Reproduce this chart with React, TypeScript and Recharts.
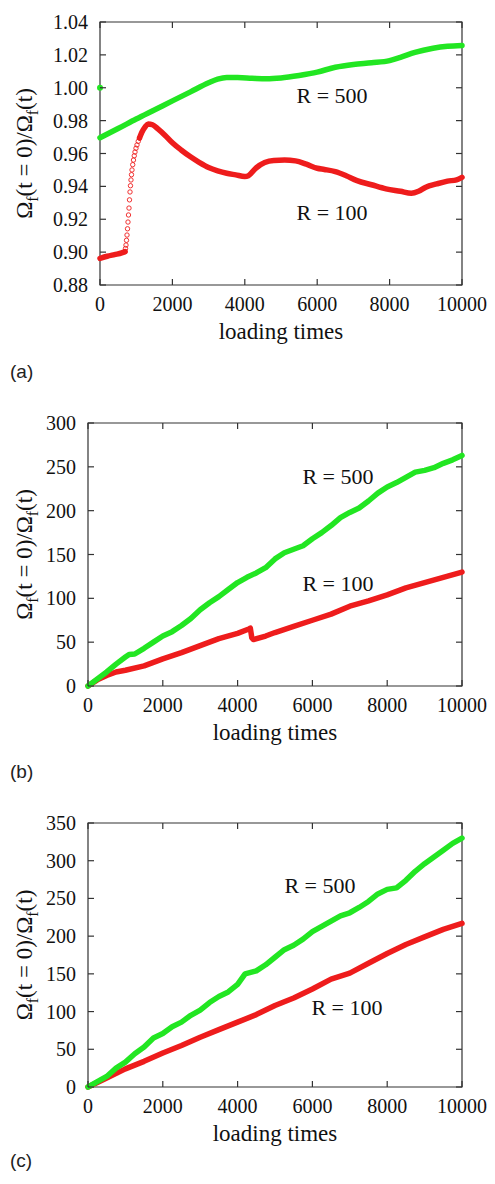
import React from "react";
import { ComposedChart, Line, XAxis, YAxis, ReferenceDot, ReferenceArea } from "recharts";

const serif = "'Liberation Serif', 'Times New Roman', Times, serif";
const sans = "'Liberation Sans', Arial, sans-serif";
const green = "#22e622";
const red = "#ee1c1c";
const axisColor = "#333";

const xTicks = [0, 2000, 4000, 6000, 8000, 10000];

// panel (a)
const aTicks = [0.88, 0.9, 0.92, 0.94, 0.96, 0.98, 1.0, 1.02, 1.04];
const aR500First = [[0, 1.0]];
const aR500 = [
  [0, 0.9696], [500, 0.9752], [1000, 0.981], [1500, 0.9865], [2000, 0.992], [2500, 0.9975],
  [3000, 1.003], [3250, 1.0052], [3500, 1.0062], [3800, 1.0062], [4200, 1.0058], [4600, 1.0055],
  [5000, 1.006], [5500, 1.0075], [6000, 1.0095], [6500, 1.0125], [7000, 1.0142], [7500, 1.0152],
  [8000, 1.0165], [8300, 1.0185], [8700, 1.0215], [9200, 1.024], [9600, 1.0252], [10000, 1.0257],
];
const aR100Start = [[0, 0.8962], [200, 0.8975], [400, 0.8985], [600, 0.8995], [691, 0.9003]];
const aR100Rise = [
  [691, 0.9003], [705, 0.9022], [718, 0.9043], [732, 0.9072], [746, 0.9104], [760, 0.9142],
  [773, 0.9183], [787, 0.9226], [801, 0.9268], [815, 0.9318], [829, 0.9366], [842, 0.9404],
  [856, 0.9439], [870, 0.9471], [884, 0.95], [904, 0.9532], [925, 0.956], [946, 0.9586],
  [967, 0.9609], [994, 0.9632], [1022, 0.9652], [1056, 0.9674], [1091, 0.9694],
];
const aR100Rest = [
  [1091, 0.9694], [1160, 0.9731], [1243, 0.9761], [1330, 0.978], [1450, 0.9775], [1600, 0.975],
  [1800, 0.971], [2000, 0.9665], [2250, 0.962], [2500, 0.958], [2750, 0.9545], [3000, 0.9515],
  [3250, 0.9495], [3500, 0.948], [3750, 0.947], [4000, 0.946], [4100, 0.9465], [4300, 0.951],
  [4550, 0.9545], [4800, 0.9558], [5100, 0.956], [5400, 0.9555], [5700, 0.9535], [6000, 0.951],
  [6200, 0.9503], [6500, 0.949], [6800, 0.9465], [7100, 0.9435], [7500, 0.941], [7900, 0.9385],
  [8300, 0.937], [8600, 0.9358], [8800, 0.937], [9000, 0.9395], [9300, 0.9415], [9600, 0.9432],
  [9850, 0.944], [10000, 0.9455],
];

// panel (b)
const bTicks = [0, 50, 100, 150, 200, 250, 300];
const bR500 = [
  [0, 0], [250, 8], [500, 16], [750, 25], [1000, 33], [1100, 36], [1250, 36.5], [1500, 43],
  [1750, 50], [2000, 57], [2250, 62], [2500, 69], [2750, 77], [3000, 87], [3250, 95],
  [3500, 102], [3750, 110], [4000, 118], [4250, 124], [4500, 129], [4750, 135], [5000, 145],
  [5250, 152], [5500, 156], [5750, 160], [6000, 168], [6250, 175], [6500, 183], [6750, 192],
  [7000, 198], [7250, 203], [7500, 211], [7750, 220], [8000, 227], [8250, 232], [8500, 238],
  [8750, 244], [9000, 246], [9250, 249], [9500, 254], [9750, 258], [10000, 263],
];
const bR100 = [
  [0, 0], [250, 7], [500, 12], [750, 16], [1000, 18], [1500, 23], [2000, 31], [2500, 38],
  [3000, 46], [3500, 54], [4000, 60], [4300, 65], [4340, 66], [4380, 55], [4420, 53],
  [4750, 57], [5000, 61], [5500, 68], [6000, 75], [6500, 82], [7000, 91], [7500, 97],
  [8000, 104], [8500, 112], [9000, 118], [9500, 124], [10000, 130],
];

// panel (c)
const cTicks = [0, 50, 100, 150, 200, 250, 300, 350];
const cR500 = [
  [0, 0], [250, 7], [500, 14], [750, 25], [1000, 33], [1250, 44], [1500, 53], [1750, 65],
  [2000, 71], [2250, 80], [2500, 86], [2750, 95], [3000, 102], [3250, 112], [3500, 120],
  [3750, 126], [4000, 136], [4200, 150], [4500, 154], [4750, 162], [5000, 172], [5250, 182],
  [5500, 188], [5750, 196], [6000, 206], [6250, 213], [6500, 220], [6750, 227], [7000, 231],
  [7250, 238], [7500, 246], [7750, 256], [8000, 262], [8250, 264], [8500, 274], [8750, 286],
  [9000, 296], [9250, 305], [9500, 314], [9750, 323], [10000, 330],
];
const cR100 = [
  [0, 0], [500, 12], [1000, 24], [1500, 34], [2000, 45], [2500, 55], [3000, 66], [3500, 76],
  [4000, 86], [4500, 96], [5000, 108], [5500, 118], [6000, 130], [6500, 143], [7000, 151],
  [7500, 164], [8000, 177], [8500, 189], [9000, 199], [9500, 209], [10000, 217],
];

const pts = (arr: number[][]) => arr.map(([t, v]) => ({ t, v }));

// x ticks: label below, short tick pointing up into the plot, mirrored on the top edge
const makeBottomTick = (plotTop: number) => (p: any) => (
  <g>
    <line x1={p.x} x2={p.x} y1={p.y - 12} y2={p.y - 18} stroke={axisColor} strokeWidth={1.2} />
    <line x1={p.x} x2={p.x} y1={plotTop} y2={plotTop + 6} stroke={axisColor} strokeWidth={1.2} />
    <text x={p.x} y={p.y + 14} textAnchor="middle" fontSize={20} fill="#111" fontFamily={serif}>
      {p.payload.value}
    </text>
  </g>
);

// y ticks: label left, inward tick on both the left and the right edge
const makeLeftTick = (fmt: (v: number) => string, plotRight: number) => (p: any) => (
  <g>
    <line x1={p.x + 12} x2={p.x + 18} y1={p.y} y2={p.y} stroke={axisColor} strokeWidth={1.2} />
    <line x1={plotRight - 6} x2={plotRight} y1={p.y} y2={p.y} stroke={axisColor} strokeWidth={1.2} />
    <text x={p.x} y={p.y + 7} textAnchor="end" fontSize={20} fill="#111" fontFamily={serif}>
      {fmt(p.payload.value)}
    </text>
  </g>
);

const XLab = (props: any) => {
  const { x, y, width } = props.viewBox;
  return (
    <text x={x + width / 2} y={y + 54} textAnchor="middle" fontSize={23} fill="#111" fontFamily={serif}>
      loading times
    </text>
  );
};

const YLab = (props: any) => {
  const { y, height } = props.viewBox;
  const cy = y + height / 2;
  return (
    <text x={32} y={cy} transform={`rotate(-90, 32, ${cy})`} textAnchor="middle" fontSize={23} fill="#111" fontFamily={serif}>
      Ω<tspan dy={6} fontSize={16}>f</tspan>
      <tspan dy={-6}>(t = 0)/Ω</tspan>
      <tspan dy={6} fontSize={16}>f</tspan>
      <tspan dy={-6}>(t)</tspan>
    </text>
  );
};

type Series = { data: number[][]; color: string; kind?: "line" | "rings" | "dot" };
type Note = { t: number; v: number; text: string };

const Panel = ({ top, height, margin, yTicks, fmt, series, notes, tag, curve }: {
  top: number; height: number; margin: any; yTicks: number[]; fmt: (v: number) => string;
  series: Series[]; notes: Note[]; tag: string; curve: "monotone" | "linear";
}) => {
  const dom: [number, number] = [yTicks[0], yTicks[yTicks.length - 1]];
  const plotRight = 495 - margin.right;
  return (
    <div style={{ position: "absolute", left: 0, top }}>
      <ComposedChart width={495} height={height} margin={margin}>
        <ReferenceArea x1={0} x2={10000} y1={dom[0]} y2={dom[1]} fill="none" stroke={axisColor}
          strokeWidth={1.2} fillOpacity={0} ifOverflow="visible" />
        <XAxis dataKey="t" type="number" domain={[0, 10000]} ticks={xTicks} height={60}
          tickMargin={12} tickSize={0} tickLine={false} interval={0} axisLine={false}
          tick={makeBottomTick(margin.top)} label={{ content: XLab }} />
        <YAxis dataKey="v" type="number" domain={dom} ticks={yTicks} width={70}
          tickMargin={12} tickSize={0} tickLine={false} interval={0} axisLine={false}
          tick={makeLeftTick(fmt, plotRight)} label={{ content: YLab }} />
        {series.map((s, i) =>
          s.kind === "rings" ? (
            <Line key={i} data={pts(s.data)} dataKey="v" type="linear" stroke="none" isAnimationActive={false}
              dot={{ r: 2.2, stroke: s.color, strokeWidth: 0.9, fill: "none" }} activeDot={false} />
          ) : s.kind === "dot" ? (
            <Line key={i} data={pts(s.data)} dataKey="v" type="linear" stroke="none" isAnimationActive={false}
              dot={{ r: 3, stroke: "none", fill: s.color }} activeDot={false} />
          ) : (
            <Line key={i} data={pts(s.data)} dataKey="v" type={curve} stroke={s.color} strokeWidth={5.5}
              strokeLinecap="round" strokeLinejoin="round" dot={false} activeDot={false} isAnimationActive={false} />
          )
        )}
        {notes.map((n, i) => (
          <ReferenceDot key={"n" + i} x={n.t} y={n.v} r={1} fill="none" stroke="none"
            label={{ value: n.text, position: "center", fontSize: 22, fill: "#111", fontFamily: serif }} />
        ))}
      </ComposedChart>
      <div style={{ position: "absolute", left: 10, top: height - 33, fontFamily: sans, fontSize: 19, lineHeight: "19px", color: "#222" }}>
        {tag}
      </div>
    </div>
  );
};

export default function App() {
  return (
    <div style={{ position: "relative", width: 495, height: 1184, background: "#fff" }}>
      <style>{"body{margin:0}"}</style>
      <Panel top={0} height={395} margin={{ top: 22, right: 33, bottom: 50, left: 30 }}
        yTicks={aTicks} fmt={(v) => v.toFixed(2)} curve="monotone" tag="(a)"
        series={[
          { data: aR100Start, color: red },
          { data: aR100Rise, color: red, kind: "rings" },
          { data: aR100Rest, color: red },
          { data: aR500, color: green },
          { data: aR500First, color: green, kind: "dot" },
        ]}
        notes={[{ t: 6409, v: 0.9956, text: "R = 500" }, { t: 6409, v: 0.9244, text: "R = 100" }]} />
      <Panel top={400} height={395} margin={{ top: 23, right: 33, bottom: 49, left: 18 }}
        yTicks={bTicks} fmt={(v) => String(v)} curve="linear" tag="(b)"
        series={[{ data: bR100, color: red }, { data: bR500, color: green }]}
        notes={[{ t: 6684, v: 239, text: "R = 500" }, { t: 6684, v: 117, text: "R = 100" }]} />
      <Panel top={790} height={394} margin={{ top: 33, right: 33, bottom: 37, left: 18 }}
        yTicks={cTicks} fmt={(v) => String(v)} curve="linear" tag="(c)"
        series={[{ data: cR100, color: red }, { data: cR500, color: green }]}
        notes={[{ t: 6203, v: 268, text: "R = 500" }, { t: 6925, v: 106, text: "R = 100" }]} />
    </div>
  );
}
